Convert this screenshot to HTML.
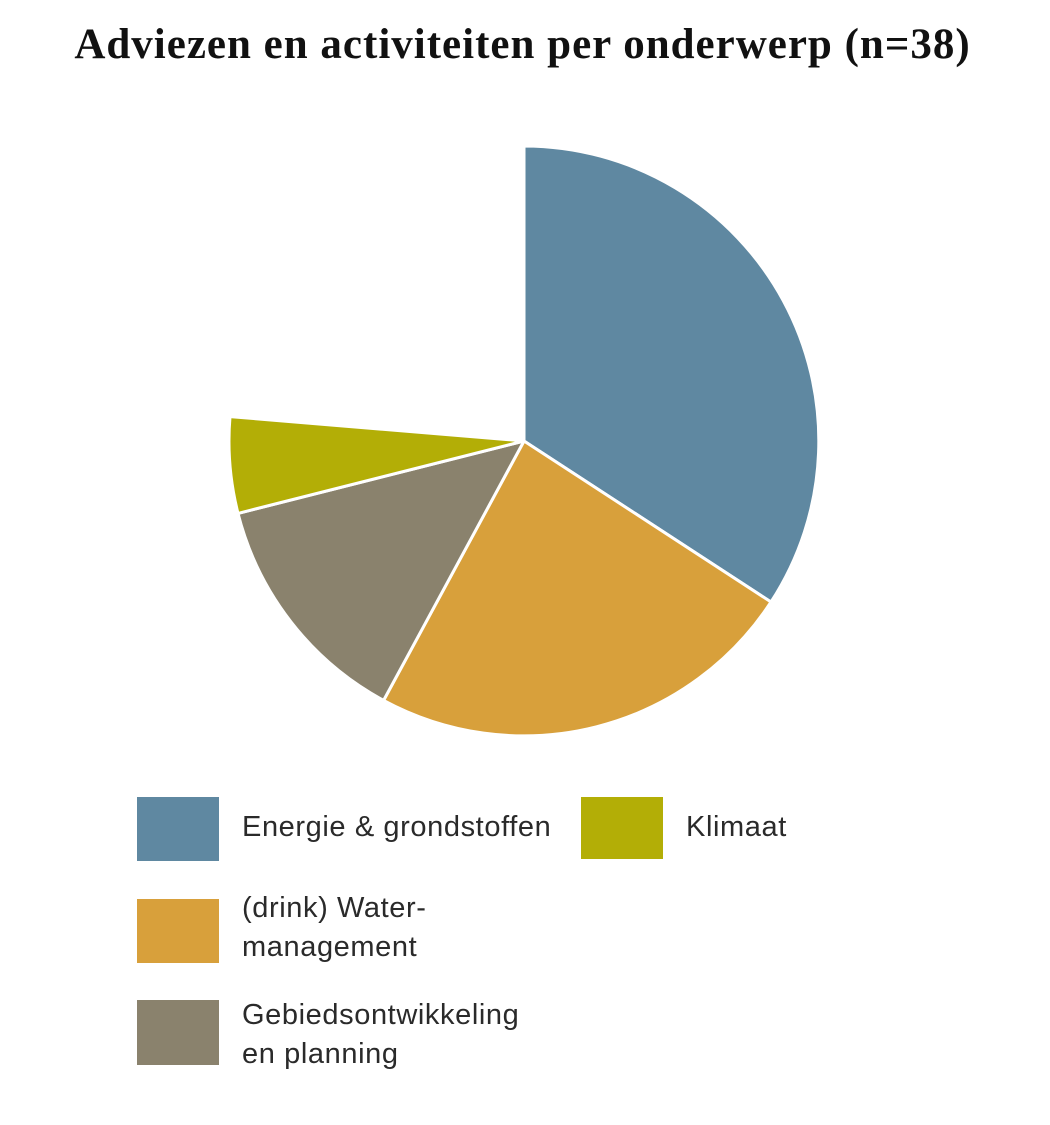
<!DOCTYPE html>
<html><head><meta charset="utf-8"><style>
body{margin:0;background:#fff;width:1050px;height:1125px;overflow:hidden;position:relative;font-family:"Liberation Sans",sans-serif}
.t{position:absolute;left:0;width:1045px;top:20px;text-align:center;font-family:"Liberation Serif",serif;font-weight:bold;font-size:43px;letter-spacing:1px;color:#111}
.sw{position:absolute;width:82px;height:64px}
.l{position:absolute;font-size:29px;letter-spacing:0.6px;color:#2a2a2a;line-height:39px}
</style></head><body>
<div class="t">Adviezen en activiteiten per onderwerp (n=38)</div>
<svg width="1050" height="1125" style="position:absolute;left:0;top:0">
<g stroke="#fff" stroke-width="3" stroke-linejoin="round">
<path d="M524,441 L524,146 A295,295 0 0 1 771,602 Z" fill="#5f88a1"/>
<path d="M524,441 L771,602 A295,295 0 0 1 383.6,700.4 Z" fill="#d8a03b"/>
<path d="M524,441 L383.6,700.4 A295,295 0 0 1 238,513.4 Z" fill="#8a826d"/>
<path d="M524,441 L238,513.4 A295,295 0 0 1 230,416.6 Z" fill="#b3ae06"/>
</g>
</svg>
<div class="sw" style="left:137px;top:797px;background:#5f88a1"></div>
<div class="l" style="left:242px;top:808px">Energie &amp; grondstoffen</div>
<div class="sw" style="left:581px;top:797px;height:62px;background:#b3ae06"></div>
<div class="l" style="left:686px;top:808px">Klimaat</div>
<div class="sw" style="left:137px;top:899px;background:#d8a03b"></div>
<div class="l" style="left:242px;top:889px">(drink) Water-<br>management</div>
<div class="sw" style="left:137px;top:1000px;height:65px;background:#8a826d"></div>
<div class="l" style="left:242px;top:996px">Gebiedsontwikkeling<br>en planning</div>
</body></html>
